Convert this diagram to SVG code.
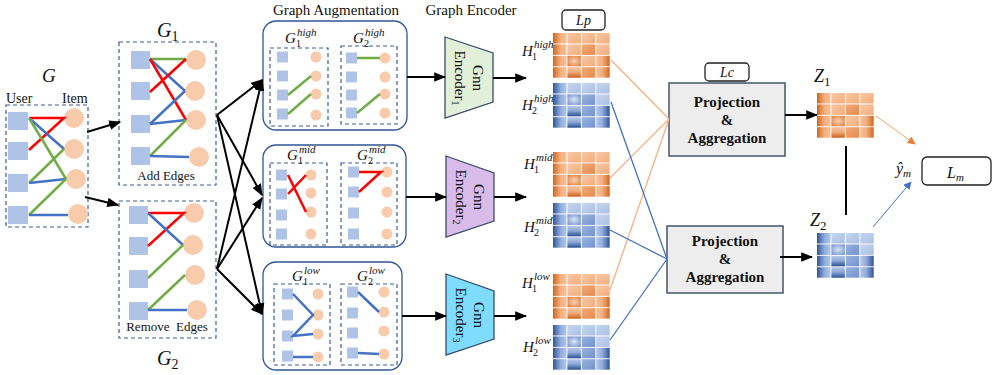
<svg xmlns="http://www.w3.org/2000/svg" xmlns:xlink="http://www.w3.org/1999/xlink" width="998" height="375" viewBox="0 0 998 375">
<style>
.t{font-family:"Liberation Serif","Times New Roman",serif;fill:#111}
.mi{font-family:"Liberation Serif","Times New Roman",serif;font-style:italic;fill:#111}
.b{font-family:"Liberation Serif","Times New Roman",serif;font-weight:bold;fill:#111}
.dash{fill:none;stroke:#3b5f94;stroke-width:1.2;stroke-dasharray:4 3}
.aug{fill:#fff;stroke:#2f5597;stroke-width:1.3}
.u{fill:#aec3e5}
.i{fill:#f8cbad}
.r{stroke:#ff0000;stroke-width:2.5;fill:none}
.bl{stroke:#4472c4;stroke-width:2.5;fill:none}
.g{stroke:#70ad47;stroke-width:2.5;fill:none}
.ar{stroke:#000;stroke-width:2;fill:none;marker-end:url(#ah)}
.ol{stroke:#f4b183;stroke-width:1.3;fill:none}
.bll{stroke:#4472c4;stroke-width:1.3;fill:none}
.box{fill:#ededed;stroke:#44546a;stroke-width:1.5}
.lb{fill:#fff;stroke:#222;stroke-width:1.3}
</style>
<defs>
<marker id="ah" viewBox="0 0 10 8" refX="9" refY="4" markerWidth="6" markerHeight="5" orient="auto" markerUnits="strokeWidth"><path d="M0,0 L10,4 L0,8 z" fill="#000"/></marker>
<marker id="aho" viewBox="0 0 10 10" refX="9" refY="5" markerWidth="8" markerHeight="8" orient="auto" markerUnits="strokeWidth"><path d="M0,0 L10,5 L0,10 z" fill="#ed7d31"/></marker>
<marker id="ahb" viewBox="0 0 10 10" refX="9" refY="5" markerWidth="8" markerHeight="8" orient="auto" markerUnits="strokeWidth"><path d="M0,0 L10,5 L0,10 z" fill="#4472c4"/></marker>
<linearGradient id="oF" x1="0" y1="0" x2="1" y2="1"><stop offset="0" stop-color="#f8c8a4"/><stop offset="1" stop-color="#f3ad7c"/></linearGradient>
<linearGradient id="oM" x1="0" y1="0" x2="1" y2="1"><stop offset="0" stop-color="#f3aa78"/><stop offset="1" stop-color="#e48a4e"/></linearGradient>
<linearGradient id="oL" x1="0" y1="0" x2="1" y2="0"><stop offset="0" stop-color="#d2661c"/><stop offset="0.55" stop-color="#f3ae7e"/><stop offset="1" stop-color="#f7c09a"/></linearGradient>
<linearGradient id="oR" x1="1" y1="0" x2="0" y2="0"><stop offset="0" stop-color="#d2661c"/><stop offset="0.55" stop-color="#f3ae7e"/><stop offset="1" stop-color="#f7c09a"/></linearGradient>
<linearGradient id="oB" x1="0" y1="0" x2="0" y2="1"><stop offset="0" stop-color="#f7c09a"/><stop offset="0.45" stop-color="#f3ae7e"/><stop offset="1" stop-color="#cc5f16"/></linearGradient>
<radialGradient id="oC" cx="0.5" cy="0.5" r="0.7"><stop offset="0" stop-color="#f9d2b5"/><stop offset="1" stop-color="#dd7a38"/></radialGradient>
<linearGradient id="bF" x1="0" y1="0" x2="1" y2="1"><stop offset="0" stop-color="#c6d5ef"/><stop offset="1" stop-color="#aac0e4"/></linearGradient>
<linearGradient id="bM" x1="0" y1="0" x2="1" y2="1"><stop offset="0" stop-color="#9ab3df"/><stop offset="1" stop-color="#7391cc"/></linearGradient>
<linearGradient id="bL" x1="0" y1="0" x2="1" y2="0"><stop offset="0" stop-color="#2f5597"/><stop offset="0.55" stop-color="#8faadc"/><stop offset="1" stop-color="#b4c7e7"/></linearGradient>
<linearGradient id="bR" x1="1" y1="0" x2="0" y2="0"><stop offset="0" stop-color="#2f5597"/><stop offset="0.55" stop-color="#8faadc"/><stop offset="1" stop-color="#b4c7e7"/></linearGradient>
<linearGradient id="bB" x1="0" y1="0" x2="0" y2="1"><stop offset="0" stop-color="#b4c7e7"/><stop offset="0.45" stop-color="#8faadc"/><stop offset="1" stop-color="#2a4f90"/></linearGradient>
<radialGradient id="bC" cx="0.5" cy="0.5" r="0.7"><stop offset="0" stop-color="#dbe5f5"/><stop offset="1" stop-color="#6d8fcb"/></radialGradient>
<g id="omat">
<rect x="0" y="0" width="13.5" height="10.5" fill="url(#oL)"/><rect x="14.4" y="0" width="13.5" height="10.5" fill="url(#oF)"/><rect x="28.8" y="0" width="13.5" height="10.5" fill="url(#oF)"/><rect x="43.2" y="0" width="13.5" height="10.5" fill="url(#oF)"/>
<rect x="0" y="11.4" width="13.5" height="10.5" fill="url(#oL)"/><rect x="14.4" y="11.4" width="13.5" height="10.5" fill="url(#oF)"/><rect x="28.8" y="11.4" width="13.5" height="10.5" fill="url(#oM)"/><rect x="43.2" y="11.4" width="13.5" height="10.5" fill="url(#oF)"/>
<rect x="0" y="22.8" width="13.5" height="10.5" fill="url(#oL)"/><rect x="14.4" y="22.8" width="13.5" height="10.5" fill="url(#oC)"/><rect x="28.8" y="22.8" width="13.5" height="10.5" fill="url(#oF)"/><rect x="43.2" y="22.8" width="13.5" height="10.5" fill="url(#oR)"/>
<rect x="0" y="34.2" width="13.5" height="10.5" fill="url(#oL)"/><rect x="14.4" y="34.2" width="13.5" height="10.5" fill="url(#oB)"/><rect x="28.8" y="34.2" width="13.5" height="10.5" fill="url(#oM)"/><rect x="43.2" y="34.2" width="13.5" height="10.5" fill="url(#oR)"/>
</g>
<g id="bmat">
<rect x="0" y="0" width="13.5" height="10.5" fill="url(#bL)"/><rect x="14.4" y="0" width="13.5" height="10.5" fill="url(#bF)"/><rect x="28.8" y="0" width="13.5" height="10.5" fill="url(#bF)"/><rect x="43.2" y="0" width="13.5" height="10.5" fill="url(#bF)"/>
<rect x="0" y="11.4" width="13.5" height="10.5" fill="url(#bL)"/><rect x="14.4" y="11.4" width="13.5" height="10.5" fill="url(#bC)"/><rect x="28.8" y="11.4" width="13.5" height="10.5" fill="url(#bM)"/><rect x="43.2" y="11.4" width="13.5" height="10.5" fill="url(#bF)"/>
<rect x="0" y="22.8" width="13.5" height="10.5" fill="url(#bL)"/><rect x="14.4" y="22.8" width="13.5" height="10.5" fill="url(#bB)"/><rect x="28.8" y="22.8" width="13.5" height="10.5" fill="url(#bM)"/><rect x="43.2" y="22.8" width="13.5" height="10.5" fill="url(#bR)"/>
<rect x="0" y="34.2" width="13.5" height="10.5" fill="url(#bL)"/><rect x="14.4" y="34.2" width="13.5" height="10.5" fill="url(#bB)"/><rect x="28.8" y="34.2" width="13.5" height="10.5" fill="url(#bM)"/><rect x="43.2" y="34.2" width="13.5" height="10.5" fill="url(#bR)"/>
</g>
</defs>
<rect width="998" height="375" fill="#fff"/>

<!-- Original graph G -->
<g id="G">
<text class="mi" x="42" y="82" font-size="19">G</text>
<text class="t" x="6" y="103" font-size="14">User</text>
<text class="t" x="62" y="103" font-size="14">Item</text>
<rect class="dash" x="6" y="105" width="82" height="122"/>
<rect class="u" x="8" y="112" width="20" height="18"/><rect class="u" x="8" y="142" width="20" height="18"/><rect class="u" x="8" y="174" width="20" height="18"/><rect class="u" x="8" y="206" width="20" height="18"/>
<circle class="i" cx="74" cy="118" r="10"/><circle class="i" cx="74" cy="149" r="10"/><circle class="i" cx="76" cy="179" r="10"/><circle class="i" cx="78" cy="214" r="10"/>
<path class="r" d="M29,118 L64,118 L29,150"/>
<path class="bl" d="M29,118 L64,149"/>
<path class="g" d="M29,118 L66,179"/>
<path class="g" d="M29,183 L64,149"/>
<path class="bl" d="M29,183 L66,179"/>
<path class="g" d="M29,215 L66,179"/>
<path class="bl" d="M29,215 L68,215"/>
</g>

<!-- G1 -->
<g id="G1">
<text class="mi" x="157" y="37" font-size="20">G<tspan font-style="normal" font-size="14" dy="4">1</tspan></text>
<rect class="dash" x="119" y="42" width="97" height="143"/>
<rect class="u" x="131" y="51" width="19" height="18"/><rect class="u" x="131" y="82" width="19" height="18"/><rect class="u" x="131" y="115" width="19" height="18"/><rect class="u" x="131" y="147" width="19" height="18"/>
<circle class="i" cx="196" cy="60" r="10"/><circle class="i" cx="195" cy="91" r="10"/><circle class="i" cx="196" cy="120" r="10"/><circle class="i" cx="199" cy="157" r="10"/>
<path class="g" d="M150,59 L186,59"/>
<path class="bl" d="M150,59 L185,91"/>
<path class="r" d="M150,59 L186,120"/>
<path class="r" d="M150,92 L186,59"/>
<path class="bl" d="M150,124 L185,91"/>
<path class="bl" d="M150,124 L186,120"/>
<path class="g" d="M150,156 L186,120"/>
<path class="bl" d="M150,156 L189,157"/>
<text class="t" x="166" y="180" font-size="13" text-anchor="middle">Add Edges</text>
</g>

<!-- G2 -->
<g id="G2">
<rect class="dash" x="119" y="201" width="97" height="137"/>
<rect class="u" x="129" y="206" width="19" height="18"/><rect class="u" x="129" y="237" width="19" height="18"/><rect class="u" x="129" y="270" width="19" height="18"/><rect class="u" x="129" y="302" width="19" height="18"/>
<circle class="i" cx="194" cy="213" r="10"/><circle class="i" cx="193" cy="245" r="10"/><circle class="i" cx="195" cy="275" r="10"/><circle class="i" cx="197" cy="310" r="10"/>
<path class="r" d="M148,213 L184,213 L148,246"/>
<path class="bl" d="M148,213 L183,245"/>
<path class="g" d="M148,278 L183,245"/>
<path class="g" d="M148,310 L185,275"/>
<path class="bl" d="M148,310 L187,310"/>
<text class="t" x="167" y="331" font-size="13" text-anchor="middle" xml:space="preserve">Remove  Edges</text>
<text class="mi" x="157" y="365" font-size="20">G<tspan font-style="normal" font-size="14" dy="4">2</tspan></text>
</g>

<text class="t" x="336" y="15" font-size="15" text-anchor="middle">Graph Augmentation</text>
<text class="t" x="471" y="15" font-size="15" text-anchor="middle">Graph Encoder</text>

<!-- Augmentation high -->
<g id="aug-high">
<rect class="aug" x="263" y="21" width="144" height="109" rx="13"/>
<rect class="dash" x="270" y="48" width="58" height="78"/>
<rect class="dash" x="341" y="46" width="56" height="78"/>
<text class="mi" x="285" y="43" font-size="15">G</text><text class="mi" x="297" y="36" font-size="11">high</text><text class="t" x="296" y="47" font-size="10">1</text>
<text class="mi" x="353" y="43" font-size="15">G</text><text class="mi" x="365" y="36" font-size="11">high</text><text class="t" x="364" y="47" font-size="10">2</text>
<rect class="u" x="277" y="51.5" width="11" height="11"/><rect class="u" x="277" y="70.5" width="11" height="11"/><rect class="u" x="277" y="89.5" width="11" height="11"/><rect class="u" x="277" y="108.5" width="11" height="11"/>
<circle class="i" cx="316" cy="57" r="5.5"/><circle class="i" cx="316" cy="76" r="5.5"/><circle class="i" cx="316" cy="94" r="5.5"/><circle class="i" cx="316" cy="115" r="5.5"/>
<path class="g" d="M288,95 L311,76 M288,114 L311,94"/>
<rect class="u" x="346" y="52.5" width="11" height="11"/><rect class="u" x="346" y="71.5" width="11" height="11"/><rect class="u" x="346" y="89.5" width="11" height="11"/><rect class="u" x="346" y="107.5" width="11" height="11"/>
<circle class="i" cx="385" cy="58" r="5.5"/><circle class="i" cx="385" cy="77" r="5.5"/><circle class="i" cx="385" cy="94" r="5.5"/><circle class="i" cx="385" cy="113" r="5.5"/>
<path class="g" d="M357,58 L380,58 M357,113 L380,94"/>
</g>

<!-- Augmentation mid -->
<g id="aug-mid">
<rect class="aug" x="263" y="145" width="143" height="102" rx="13"/>
<rect class="dash" x="270" y="163" width="57" height="82"/>
<rect class="dash" x="341" y="163" width="56" height="82"/>
<text class="mi" x="287" y="160" font-size="15">G</text><text class="mi" x="299" y="153" font-size="11">mid</text><text class="t" x="298" y="164" font-size="10">1</text>
<text class="mi" x="357" y="160" font-size="15">G</text><text class="mi" x="369" y="153" font-size="11">mid</text><text class="t" x="368" y="164" font-size="10">2</text>
<rect class="u" x="276" y="169.5" width="11" height="11"/><rect class="u" x="276" y="188.5" width="11" height="11"/><rect class="u" x="276" y="209.5" width="11" height="11"/><rect class="u" x="276" y="228.5" width="11" height="11"/>
<circle class="i" cx="311" cy="175" r="5.5"/><circle class="i" cx="311" cy="193" r="5.5"/><circle class="i" cx="311" cy="212" r="5.5"/><circle class="i" cx="311" cy="234" r="5.5"/>
<path class="r" d="M288,175 L306,212 M288,194 L306,175"/>
<rect class="u" x="348" y="166.5" width="11" height="11"/><rect class="u" x="348" y="186.5" width="11" height="11"/><rect class="u" x="348" y="207.5" width="11" height="11"/><rect class="u" x="348" y="228.5" width="11" height="11"/>
<circle class="i" cx="387" cy="172" r="5.5"/><circle class="i" cx="387" cy="192" r="5.5"/><circle class="i" cx="387" cy="212" r="5.5"/><circle class="i" cx="387" cy="234" r="5.5"/>
<path class="r" d="M359,172 L381,172 L359,192"/>
</g>

<!-- Augmentation low -->
<g id="aug-low">
<rect class="aug" x="263" y="262" width="139" height="108" rx="13"/>
<rect class="dash" x="274" y="284" width="56" height="81"/>
<rect class="dash" x="341" y="284" width="56" height="81"/>
<text class="mi" x="292" y="281" font-size="15">G</text><text class="mi" x="304" y="274" font-size="11">low</text><text class="t" x="303" y="285" font-size="10">1</text>
<text class="mi" x="357" y="281" font-size="15">G</text><text class="mi" x="369" y="274" font-size="11">low</text><text class="t" x="368" y="285" font-size="10">2</text>
<rect class="u" x="282" y="288.5" width="11" height="11"/><rect class="u" x="282" y="309.5" width="11" height="11"/><rect class="u" x="282" y="330.5" width="11" height="11"/><rect class="u" x="282" y="350.5" width="11" height="11"/>
<circle class="i" cx="318" cy="294" r="5.5"/><circle class="i" cx="318" cy="315" r="5.5"/><circle class="i" cx="318" cy="334" r="5.5"/><circle class="i" cx="318" cy="357" r="5.5"/>
<path class="bl" d="M293,294 L313,315 L293,336 L313,334 M293,357 L313,357"/>
<rect class="u" x="347" y="286.5" width="11" height="11"/><rect class="u" x="347" y="307.5" width="11" height="11"/><rect class="u" x="347" y="327.5" width="11" height="11"/><rect class="u" x="347" y="347.5" width="11" height="11"/>
<circle class="i" cx="384" cy="292" r="5.5"/><circle class="i" cx="384" cy="312" r="5.5"/><circle class="i" cx="384" cy="331" r="5.5"/><circle class="i" cx="384" cy="354" r="5.5"/>
<path class="bl" d="M358,292 L379,312 M358,353 L379,354"/>
</g>

<!-- Encoders -->
<g id="enc1">
<path d="M445,37 L493,53 L493,102 L445,118 Z" fill="#e2efd9" stroke="#3a4a6b" stroke-width="1.3"/>
<g transform="translate(469,78) rotate(90)"><text class="t" x="0" y="-4" font-size="15" text-anchor="middle">Gnn</text><text class="t" x="0" y="14" font-size="15" text-anchor="middle">Encoder<tspan font-size="10" dy="3">1</tspan></text></g>
</g>
<g id="enc2">
<path d="M446,156 L494,173 L494,221 L446,237 Z" fill="#d9bbe9" stroke="#3a4a6b" stroke-width="1.3"/>
<g transform="translate(470,197) rotate(90)"><text class="t" x="0" y="-4" font-size="15" text-anchor="middle">Gnn</text><text class="t" x="0" y="14" font-size="15" text-anchor="middle">Encoder<tspan font-size="10" dy="3">2</tspan></text></g>
</g>
<g id="enc3">
<path d="M446,274 L494,291 L494,339 L446,355 Z" fill="#7fdcff" stroke="#3a4a6b" stroke-width="1.3"/>
<g transform="translate(470,315) rotate(90)"><text class="t" x="0" y="-4" font-size="15" text-anchor="middle">Gnn</text><text class="t" x="0" y="14" font-size="15" text-anchor="middle">Encoder<tspan font-size="10" dy="3">3</tspan></text></g>
</g>

<!-- Lp -->
<g id="Lp">
<rect class="lb" x="562" y="10" width="43" height="20" rx="4"/>
<text class="mi" x="583.5" y="25" font-size="14" text-anchor="middle">Lp</text>
</g>

<!-- H matrices -->
<g id="H1high"><use href="#omat" x="553" y="33"/><text class="mi" x="522" y="56" font-size="15">H</text><text class="mi" x="534" y="48" font-size="11">high</text><text class="t" x="532" y="60" font-size="10">1</text></g>
<g id="H2high"><use href="#bmat" x="553" y="83"/><text class="mi" x="522" y="110" font-size="15">H</text><text class="mi" x="534" y="102" font-size="11">high</text><text class="t" x="532" y="114" font-size="10">2</text></g>
<g id="H1mid"><use href="#omat" x="553" y="152"/><text class="mi" x="524" y="169" font-size="15">H</text><text class="mi" x="536" y="161" font-size="11">mid</text><text class="t" x="534" y="173" font-size="10">1</text></g>
<g id="H2mid"><use href="#bmat" x="553" y="203"/><text class="mi" x="524" y="232" font-size="15">H</text><text class="mi" x="536" y="224" font-size="11">mid</text><text class="t" x="534" y="236" font-size="10">2</text></g>
<g id="H1low"><use href="#omat" x="553" y="274"/><text class="mi" x="522" y="288" font-size="15">H</text><text class="mi" x="534" y="280" font-size="11">low</text><text class="t" x="532" y="292" font-size="10">1</text></g>
<g id="H2low"><use href="#bmat" x="553" y="325"/><text class="mi" x="523" y="352" font-size="15">H</text><text class="mi" x="535" y="344" font-size="11">low</text><text class="t" x="533" y="356" font-size="10">2</text></g>

<!-- Projection boxes -->
<g id="proj1">
<rect class="lb" x="705" y="63" width="44" height="18" rx="4"/>
<text class="mi" x="727" y="77" font-size="14" text-anchor="middle">Lc</text>
<rect class="box" x="669" y="83" width="116" height="73"/>
<text class="b" x="727" y="107" font-size="15" text-anchor="middle">Projection</text>
<text class="b" x="727" y="125" font-size="15" text-anchor="middle">&amp;</text>
<text class="b" x="727" y="143" font-size="15" text-anchor="middle">Aggregation</text>
</g>
<g id="proj2">
<rect class="box" x="667" y="226" width="116" height="67"/>
<text class="b" x="725" y="246" font-size="15" text-anchor="middle">Projection</text>
<text class="b" x="725" y="264" font-size="15" text-anchor="middle">&amp;</text>
<text class="b" x="725" y="282" font-size="15" text-anchor="middle">Aggregation</text>
</g>

<!-- Z matrices -->
<g id="Z1"><use href="#omat" x="817" y="93"/><text class="mi" x="814" y="82" font-size="18">Z<tspan font-style="normal" font-size="13" dy="4">1</tspan></text></g>
<g id="Z2"><use href="#bmat" x="817" y="233"/><text class="mi" x="810" y="226" font-size="18">Z<tspan font-style="normal" font-size="13" dy="4">2</tspan></text></g>

<!-- Output -->
<g id="yhat"><text class="mi" x="896" y="174" font-size="16">ŷ<tspan font-size="11" dy="3">m</tspan></text></g>
<g id="Lm">
<rect class="lb" x="922" y="157" width="69" height="28" rx="5"/>
<text class="mi" x="947" y="178" font-size="16">L<tspan font-size="11" dy="3">m</tspan></text>
</g>

<!-- Connectors -->
<g id="connectors">
<path class="ar" d="M87,132 L120,122"/>
<path class="ar" d="M85,197 L118,205"/>
<path class="ar" d="M217,115 L262,80"/>
<path class="ar" d="M217,115 L262,195"/>
<path class="ar" d="M217,115 L262,314"/>
<path class="ar" d="M217,269 L262,80"/>
<path class="ar" d="M217,269 L262,198"/>
<path class="ar" d="M217,269 L262,314"/>
<path class="ar" d="M407,77 L445,77"/>
<path class="ar" d="M406,197 L446,197"/>
<path class="ar" d="M402,316 L446,316"/>
<path class="ar" d="M493,78 L526,78"/>
<path class="ar" d="M494,197 L526,197"/>
<path class="ar" d="M494,316 L526,316"/>
<path class="ol" d="M611,60 L669,119 M610,178 L669,119 M610,290 L669,119"/>
<path class="bll" d="M611,102 L667,259 M610,230 L667,259 M610,340 L667,259"/>
<path class="ar" d="M785,115 L817,115"/>
<path class="ar" d="M780,257 L812,257"/>
<path d="M846,146 L846,215" stroke="#000" stroke-width="2"/>
<path d="M876,116 L915,144" stroke="#f4a26b" stroke-width="1" marker-end="url(#aho)"/>
<path d="M873,227 L911,182" stroke="#4472c4" stroke-width="1" marker-end="url(#ahb)"/>
</g>
</svg>
